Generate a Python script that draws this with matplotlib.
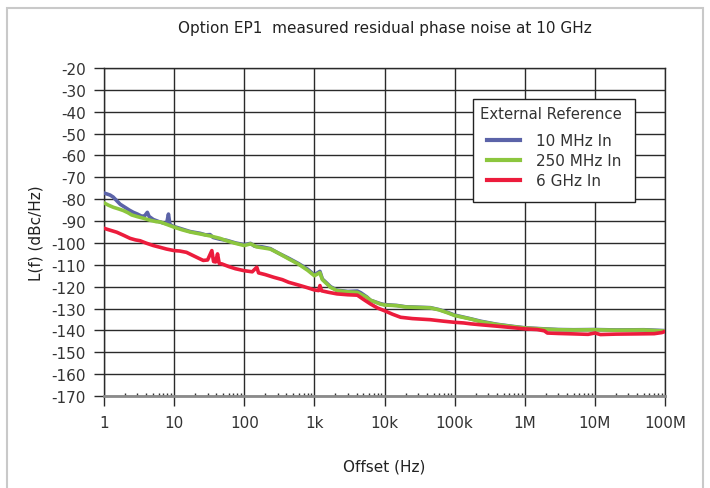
import matplotlib
matplotlib.use("Agg")
import matplotlib.pyplot as plt
from matplotlib.patches import Rectangle
from matplotlib.ticker import FixedLocator, NullFormatter, LogLocator

plt.rcParams['font.family'] = ['DejaVu Sans']
plt.rcParams['axes.unicode_minus'] = False

title = "Option EP1  measured residual phase noise at 10 GHz"
xlabel = "Offset (Hz)"
ylabel = "L(f) (dBc/Hz)"
legend_title = "External Reference"
series_names = ["10 MHz In", "250 MHz In", "6 GHz In"]
series_colors = ["#5b63a8", "#8cc63e", "#ec1c3c"]

x_ticks = [1, 10, 100, 1e3, 1e4, 1e5, 1e6, 1e7, 1e8]
x_tick_labels = ["1", "10", "100", "1k", "10k", "100k", "1M", "10M", "100M"]
y_ticks = list(range(-170, -19, 10))

blue_x = [1, 1.1, 1.22, 1.35, 1.52, 1.7, 1.99, 2.3, 2.62, 3.0, 3.45, 3.8, 4.15, 4.4,
          5.06, 6.0, 7.0, 7.8, 8.3, 8.7, 9.5, 12, 16.9, 23.5, 28, 32.6, 36, 45, 56, 75,
          100, 123, 140, 180, 235, 300, 430, 600, 800, 1000, 1200, 1300, 1700, 2100,
          3000, 4100, 4600, 5600, 6300, 8800, 1e4, 1.5e4, 2e4, 3e4, 4.5e4, 6e4, 8e4,
          1e5, 1.7e5, 2.35e5, 4e5, 6.9e5, 1e6, 1.9e6, 3e6, 5e6, 1e7, 2e7, 5e7, 1e8]
blue_y = [-77.2, -77.6, -78.1, -79.0, -80.7, -82.3, -83.7, -85.0, -86.0, -86.8, -87.8,
          -87.6, -86.0, -87.9, -89.3, -90.2, -90.9, -91.2, -86.8, -91.5, -92.3, -93.3,
          -94.8, -95.6, -96.3, -96.2, -97.5, -98.3, -98.8, -100.0, -100.8, -100.2,
          -101.5, -101.8, -102.6, -104.5, -107.0, -109.5, -112.0, -114.6, -113.0,
          -116.5, -120.0, -121.6, -122.2, -122.0, -122.8, -124.7, -126.2, -127.8,
          -128.2, -128.6, -129.2, -129.4, -129.6, -130.5, -131.8, -133.0, -134.7,
          -135.8, -137.2, -138.2, -138.8, -139.3, -139.6, -139.7, -139.6, -139.8,
          -139.7, -140.1]

green_x = [1, 1.15, 1.36, 1.6, 1.89, 2.2, 2.48, 3.0, 3.64, 4.5, 5.6, 6.3, 7.5, 10, 13,
           16.9, 23.5, 32.6, 45, 56, 75, 100, 123, 150, 235, 300, 430, 600, 800, 1000,
           1200, 1300, 1700, 2100, 3000, 4100, 5600, 6300, 8800, 1e4, 1.5e4, 2e4, 3e4,
           4.5e4, 6e4, 8e4, 1e5, 1.7e5, 2.35e5, 4e5, 6.9e5, 1e6, 1.9e6, 3e6, 5e6, 1e7,
           2e7, 5e7, 1e8]
green_y = [-81.7, -82.7, -83.7, -84.4, -85.2, -86.2, -87.2, -88.0, -88.7, -89.6, -90.3,
           -90.4, -91.3, -92.8, -94.0, -95.0, -95.9, -96.8, -97.9, -99.0, -100.2,
           -101.2, -100.4, -101.8, -102.8, -104.5, -107.3, -109.8, -112.5, -115.0,
           -113.6, -116.8, -120.3, -121.8, -122.4, -122.6, -124.9, -126.2, -128.0,
           -128.4, -128.7, -129.3, -129.5, -129.7, -130.6, -132.0, -133.2, -134.8,
           -136.0, -137.3, -138.3, -138.9, -139.4, -139.7, -139.8, -139.7, -139.9,
           -139.8, -140.3]

red_x = [1, 1.2, 1.52, 1.9, 2.35, 2.8, 3.27, 4.0, 5.06, 6.3, 7.8, 10, 12, 15, 18.7, 22,
         26, 30, 34.5, 36.5, 39, 41.6, 44, 48, 60, 75, 100, 130, 151, 160, 200, 263,
         350, 430, 600, 800, 1000, 1150, 1200, 1270, 1600, 2100, 3000, 4100, 5000,
         6300, 8000, 1e4, 1.3e4, 1.7e4, 2.5e4, 4.5e4, 7e4, 1e5, 1.35e5, 1.7e5, 2.5e5,
         4.1e5, 7e5, 1e6, 1.5e6, 1.9e6, 2.1e6, 3e6, 5e6, 8e6, 1e7, 1.2e7, 2e7, 4e7,
         7e7, 9e7, 1e8]
red_y = [-93.3, -94.1, -95.1, -96.5, -97.9, -98.6, -99.0, -100.1, -101.2, -102.0,
         -102.8, -103.5, -103.7, -104.3, -105.8, -106.9, -108.0, -107.8, -103.5,
         -108.5, -108.7, -105.0, -109.4, -109.6, -110.8, -111.8, -112.7, -113.2,
         -111.1, -113.7, -114.5, -115.7, -116.8, -118.0, -119.3, -120.5, -121.5,
         -121.8, -119.5, -121.9, -122.6, -123.3, -123.7, -123.9, -125.8, -127.9,
         -129.8, -131.0, -132.6, -134.0, -134.6, -135.1, -135.8, -136.3, -136.6,
         -137.0, -137.5, -138.1, -138.8, -139.3, -139.6, -140.2, -141.2, -141.4,
         -141.6, -141.8, -141.2, -141.9, -141.7, -141.6, -141.5, -141.0, -140.5]

fig = plt.figure(figsize=(7.10, 4.89), dpi=100)
ax = fig.add_axes([104/710, 1-397/489, (665-104)/710, (397-69)/489])

# outer light border
fig.patches.append(Rectangle((7/710, -0.05), (703-7)/710, 1.05 - 9/489,
                             transform=fig.transFigure, fill=False,
                             edgecolor="#c9c9c9", linewidth=1.5))

grid_color = "#2a2a2a"
ax.set_xscale("log")
ax.set_xlim(1, 1e8)
ax.set_ylim(-170, -20)

ax.plot(blue_x, blue_y, color=series_colors[0], lw=2.6, label=series_names[0], zorder=3)
ax.plot(green_x, green_y, color=series_colors[1], lw=2.6, label=series_names[1], zorder=4)
ax.plot(red_x, red_y, color=series_colors[2], lw=2.6, label=series_names[2], zorder=5)

ax.xaxis.set_major_locator(FixedLocator(x_ticks))
ax.set_xticklabels(x_tick_labels)
ax.xaxis.set_minor_locator(LogLocator(base=10, subs=range(2, 10), numticks=20))
ax.xaxis.set_minor_formatter(NullFormatter())
ax.set_yticks(y_ticks)
ax.set_yticklabels([str(v) for v in y_ticks])

ax.grid(True, which="major", color=grid_color, lw=1.0, zorder=1)
ax.set_axisbelow(True)
for s in ax.spines.values():
    s.set_color(grid_color)
    s.set_linewidth(1.0)
ax.spines["bottom"].set_color("#8a8a8a")
ax.spines["bottom"].set_linewidth(2.0)

ax.tick_params(axis="x", which="major", direction="out", length=7, width=1,
               color=grid_color, pad=7, labelsize=11, labelcolor="#333333")
ax.tick_params(axis="x", which="minor", direction="in", length=2, width=1,
               color="#333333")
ax.tick_params(axis="y", which="major", direction="out", length=7, width=1,
               color=grid_color, pad=6, labelsize=11, labelcolor="#333333")

ax.set_xlabel(xlabel, fontsize=11, labelpad=20, color="#222222")
ax.set_ylabel(ylabel, fontsize=11, labelpad=6, color="#222222")
fig.text(385/710, 1-29/489, title, ha="center", va="center", fontsize=11, color="#222222")

leg = ax.legend(title=legend_title, loc="upper left",
                bbox_to_anchor=(473/710, 1-100/489), bbox_transform=fig.transFigure,
                fontsize=11, title_fontsize=10.7, frameon=True, fancybox=False,
                edgecolor="#222222", framealpha=1, handlelength=2.2,
                handletextpad=1.0, labelspacing=0.34, borderpad=0.45,
                borderaxespad=0)
leg._legend_box.align = "left"
leg._legend_handle_box.pad = 5
leg.get_frame().set_linewidth(1.0)
for line in leg.get_lines():
    line.set_linewidth(3)
for t in leg.get_texts():
    t.set_color("#333333")
leg.get_title().set_color("#333333")

fig.savefig("out.png", dpi=100)
